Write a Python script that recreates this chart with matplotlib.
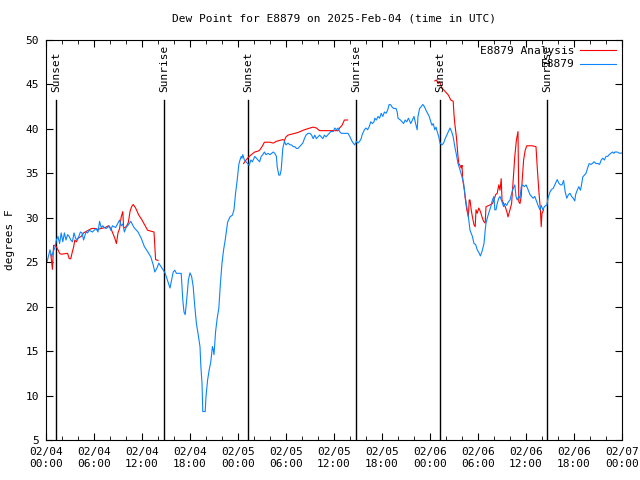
import numpy as np
import matplotlib.pyplot as plt

# hours since 2025-02-04 00:00 UTC
obs_hours = [0.15, 0.5, 0.7, 0.9, 1.1, 1.3, 1.5, 1.7, 1.9, 2.1, 2.3, 2.5, 2.7, 2.9, 3.1, 3.3, 3.5, 3.7, 3.9, 4.1,
             4.3, 4.5, 4.7, 5.0, 5.2, 5.4, 5.8, 6.25, 6.5, 6.7, 6.9, 7.1, 7.3, 7.5, 7.7, 7.9, 8.1, 8.3, 8.7, 9.2,
             9.4, 9.6, 9.8, 10.0, 10.2, 10.6, 11.0, 11.5, 11.9, 12.3, 12.7, 13.1, 13.4, 13.6, 13.9, 14.1, 14.3, 14.6,
             14.9, 15.1, 15.5, 15.7, 15.9, 16.1, 16.3, 16.9, 17.1, 17.25, 17.4, 17.6, 17.8, 18.0, 18.2, 18.4, 18.6,
             18.8, 19.0, 19.25, 19.35, 19.5, 19.6, 19.9, 20.0, 20.2, 20.4, 20.6, 20.8, 20.9, 21.0, 21.2, 21.4, 21.6,
             21.8, 22.0, 22.2, 22.4, 22.7, 23.0, 23.3, 23.5, 23.7, 23.9, 24.1, 24.25, 24.4, 24.5, 24.6, 24.8, 25.0,
             25.2, 25.4, 25.6, 25.8, 26.1, 26.3, 26.5, 26.7, 26.9, 27.1, 27.3, 27.5, 27.75, 28.0, 28.2, 28.4, 28.6,
             28.8, 28.9, 29.1, 29.25, 29.4, 29.6, 29.8, 30.0, 30.25, 30.5, 30.7, 30.9, 31.1, 31.3, 31.5, 31.7, 31.9,
             32.1, 32.3, 32.5, 32.75, 33.0, 33.2, 33.4, 33.6, 33.8, 34.0, 34.2, 34.4, 34.6, 34.8, 35.0, 35.2, 35.4,
             35.6, 35.9, 36.1, 36.3, 36.5, 36.7, 36.9, 37.3, 37.75, 38.0, 38.2, 38.4, 38.6, 38.8, 39.0, 39.2, 39.4,
             39.5, 39.6, 39.8, 40.0, 40.2, 40.4, 40.6, 40.8, 41.0, 41.1, 41.3, 41.5, 41.7, 41.9, 42.1, 42.3, 42.5,
             42.7, 42.9, 43.1, 43.3, 43.5, 43.75, 43.9, 44.0, 44.3, 44.5, 44.7, 44.9, 45.1, 45.3, 45.6, 45.8, 46.0,
             46.2, 46.4, 46.5, 46.7, 46.9, 47.1, 47.3, 47.5, 47.7, 47.9, 48.1, 48.25, 48.4, 48.6, 48.75, 48.9, 49.1,
             49.25, 49.5, 49.7, 49.9, 50.1, 50.3, 50.5, 50.7, 50.9, 51.1, 51.3, 51.5, 51.75, 52.0, 52.2, 52.4, 52.6,
             52.8, 53.0, 53.3, 53.5, 53.7, 53.9, 54.1, 54.3, 54.5, 54.75, 54.9, 55.0, 55.2, 55.4, 55.6, 55.8, 56.0,
             56.1, 56.25, 56.4, 56.6, 56.75, 57.0, 57.2, 57.4, 57.6, 57.8, 58.0, 58.25, 58.4, 58.6, 58.75, 58.9,
             59.1, 59.25, 59.4, 59.6, 59.8, 60.0, 60.2, 60.5, 60.7, 60.9, 61.1, 61.3, 61.5, 61.75, 61.9, 62.1, 62.3,
             62.5, 62.6, 62.75, 63.0, 63.2, 63.4, 63.6, 63.8, 63.9, 64.1, 64.3, 64.5, 64.7, 64.9, 65.1, 65.3, 65.5,
             65.7, 65.9, 66.1, 66.2, 66.4, 66.6, 66.8, 66.9, 67.1, 67.3, 67.5, 67.7, 67.9, 68.1, 68.3, 68.5, 68.75,
             69.0, 69.2, 69.4, 69.6, 69.8, 70.0, 70.2, 70.4, 70.6, 70.8, 71.0, 71.1, 71.4, 71.7, 72.0]
obs_dewpt = [25.1, 26.4, 25.6, 26.2, 26.6, 27.5, 27.9, 27.1, 28.3, 27.3, 28.3, 27.5, 28.1, 27.9, 27.5, 27.3, 28.3, 27.7, 27.5, 27.9,
             28.4, 28.3, 27.5, 28.4, 28.3, 28.6, 28.4, 28.8, 28.4, 29.6, 28.9, 29.1, 28.9, 28.8, 28.9, 29.1, 28.6, 29.1, 28.9, 29.75,
             29.1, 29.3, 28.4, 28.9, 29.1, 29.6, 28.9, 28.4, 27.7, 26.75, 26.2, 25.6, 24.7, 23.9, 24.4, 24.9, 24.6, 24.2,
             23.75, 23.2, 22.1, 23.0, 23.9, 24.1, 23.75, 23.75, 20.75, 19.4, 19.1, 20.9, 23.0, 23.8, 23.4, 22.25, 20.0,
             18.1, 17.0, 15.5, 13.4, 11.4, 8.2, 8.2, 9.9, 11.75, 12.9, 13.8, 15.5, 15.2, 14.6, 17.2, 18.7, 19.8,
             22.6, 24.9, 26.4, 27.5, 29.5, 30.1, 30.3, 30.9, 32.8, 34.25, 36.0, 36.5, 36.9, 36.7, 37.1, 36.5, 36.3,
             36.1, 35.9, 36.5, 36.3, 36.9, 36.7, 36.5, 36.3, 36.9, 37.1, 37.4, 37.1, 37.25, 37.1, 37.25, 37.4, 37.25,
             36.9, 35.75, 34.8, 34.8, 35.4, 37.8, 38.6, 38.2, 38.4, 38.2, 38.2, 38.0, 38.0, 37.8, 37.8, 38.0, 38.2,
             38.4, 38.9, 39.3, 39.5, 39.5, 39.3, 38.9, 39.3, 38.9, 39.1, 39.3, 39.1, 38.9, 39.3, 39.1, 39.3, 39.5,
             39.7, 39.7, 40.1, 39.9, 40.1, 39.7, 39.5, 39.5, 39.5, 39.1, 38.7, 38.4, 38.2, 38.6, 38.4, 38.6, 38.9,
             39.3, 39.5, 39.9, 40.1, 39.9, 40.25, 40.8, 40.6, 40.8, 41.2, 41.0, 41.4, 41.2, 41.75, 41.4, 41.9, 41.75,
             42.1, 42.75, 42.7, 42.4, 42.3, 42.3, 41.9, 41.2, 41.0, 40.8, 40.6, 41.0, 40.8, 41.2, 40.6, 41.0, 41.4,
             40.6, 39.9, 41.4, 42.3, 42.5, 42.75, 42.5, 42.1, 41.75, 41.4, 40.8, 40.4, 40.6, 39.9, 40.2, 39.7, 39.1,
             38.4, 38.2, 38.4, 38.9, 39.3, 39.7, 40.1, 39.7, 39.1, 38.0, 37.1, 36.1, 35.4, 34.6, 33.9, 32.4, 31.25,
             30.1, 28.6, 27.9, 27.1, 27.0, 26.4, 26.1, 25.7, 26.2, 27.1, 28.6, 29.4, 30.1, 30.7, 31.25, 32.0, 32.4,
             30.9, 30.9, 31.6, 32.2, 32.4, 31.8, 31.25, 31.6, 31.4, 31.8, 32.0, 32.9, 33.3, 33.7, 32.4, 32.0,
             32.4, 32.2, 33.5, 33.7, 33.5, 33.7, 33.3, 32.6, 32.4, 32.2, 32.4, 31.9, 31.4, 30.9, 31.4, 30.9, 31.25,
             31.4, 31.4, 32.2, 32.9, 33.2, 33.3, 33.7, 34.1, 34.3, 33.9, 33.7, 33.7, 34.2, 32.9, 32.2, 32.6, 32.75,
             32.4, 32.2, 31.9, 32.6, 33.1, 33.5, 33.1, 33.5, 34.6, 34.8, 35.0, 35.6, 36.1, 36.0, 36.1, 36.3, 36.1,
             36.1, 36.0, 36.5, 36.7, 36.5, 36.9, 36.9, 37.1, 37.25, 37.4, 37.25, 37.4, 37.4, 37.25, 37.3]

ana_hours = [0.6, 0.8, 0.95, 1.1, 1.3, 1.5, 1.7, 1.9, 2.7, 2.9, 3.1, 3.3, 3.45, 3.6, 3.8, 4.0, 4.4, 4.7, 5.3, 5.7,
             6.1, 6.5, 6.9, 7.4, 7.8, 8.0, 8.2, 8.6, 8.8, 9.0, 9.2, 9.4, 9.6, 9.7, 9.9, 10.1, 10.3, 10.5, 10.7, 10.9,
             11.2, 11.6, 12.0, 12.4, 12.7, 13.5, 13.7, 14.0, 19.0,
             24.7, 25.0, 25.4, 25.8, 26.1, 26.5, 26.7, 27.0, 27.3, 28.0, 28.4, 28.8, 29.2, 29.6, 29.8, 30.0, 30.25,
             30.7, 31.1, 31.5, 31.9, 32.3, 33.0, 33.4, 33.8, 34.2, 34.8, 35.7, 36.5, 36.7, 37.0, 37.3, 37.7, 43.0,
             48.6, 48.8, 49.0, 49.2, 49.5, 49.9, 50.3, 50.6, 50.9, 51.0, 51.1, 51.3, 51.4, 51.5, 51.6, 51.75, 51.9,
             52.0, 52.1, 52.3, 52.4, 52.6, 52.8, 52.9, 53.0, 53.15, 53.3, 53.5, 53.65, 53.75, 53.9, 54.1, 54.3, 54.5,
             54.7, 54.9, 55.0, 55.4, 55.8, 56.0, 56.2, 56.4, 56.6, 56.75, 56.9, 57.0, 57.2, 57.4, 57.6, 57.75, 58.0,
             58.2, 58.4, 58.6, 58.8, 59.0, 59.1, 59.25, 59.4, 59.5, 59.7, 59.9, 60.1, 60.75, 61.25, 61.4, 61.6,
             61.8, 61.9, 62.0, 62.2]
ana_dewpt = [25.9, 24.2, 26.9, 26.9, 26.7, 26.4, 26.0, 25.9, 26.0, 25.4, 25.4, 26.2, 26.7, 27.5, 27.3, 27.7, 27.9, 28.3, 28.6, 28.8,
             28.8, 28.7, 28.8, 28.9, 29.1, 28.9, 28.6, 27.7, 27.1, 28.3, 28.8, 30.1, 30.7, 28.9, 28.9, 29.1, 29.5, 30.7, 31.25, 31.5,
             31.1, 30.3, 29.75, 29.1, 28.6, 28.4, 25.3, 25.2, np.nan,
             36.1, 36.5, 36.9, 37.2, 37.4, 37.5, 37.6, 38.0, 38.5, 38.5, 38.4, 38.6, 38.7, 38.8, 38.7, 39.1, 39.3,
             39.4, 39.5, 39.6, 39.75, 39.9, 40.1, 40.2, 40.1, 39.8, 39.8, 39.8, 39.8, 40.1, 40.4, 41.0, 41.0, np.nan,
             45.4, 45.5, 45.1, 45.3, 44.6, 44.2, 43.8, 43.25, 43.1, 41.6, 40.6, 39.1, 38.0, 36.9, 36.1, 35.9, 35.6,
             35.9, 34.25, 33.1, 32.2, 30.9, 30.1, 32.0, 32.0, 30.9, 30.1, 29.2, 29.0, 30.9, 30.5, 31.1, 30.7, 30.1,
             29.6, 29.4, 31.25, 31.4, 31.6, 32.0, 32.6, 32.75, 33.7, 33.1, 34.4, 32.0, 31.6, 31.25, 30.7, 30.1, 30.9,
             31.6, 34.25, 36.9, 38.75, 39.7, 31.8, 31.6, 32.4, 33.9, 36.5, 37.6, 38.1, 38.1, 38.0, 35.75, 33.1,
             30.9, 29.0, 30.5, 30.9]

event_hours = [1.25, 14.75, 25.25, 38.75, 49.25, 62.6]
event_labels = ["Sunset", "Sunrise", "Sunset", "Sunrise", "Sunset", "Sunrise"]

tick_hours = [0, 6, 12, 18, 24, 30, 36, 42, 48, 54, 60, 66, 72]
tick_labels = ["02/04\n00:00", "02/04\n06:00", "02/04\n12:00", "02/04\n18:00",
               "02/05\n00:00", "02/05\n06:00", "02/05\n12:00", "02/05\n18:00",
               "02/06\n00:00", "02/06\n06:00", "02/06\n12:00", "02/06\n18:00",
               "02/07\n00:00"]

plt.rcParams['font.family'] = 'DejaVu Sans Mono'
plt.rcParams['font.size'] = 8

fig = plt.figure(figsize=(6.4, 4.8), dpi=100)
ax = fig.add_axes([46 / 640, 40 / 480, 576 / 640, 400 / 480])

for h, lab in zip(event_hours, event_labels):
    ax.plot([h, h], [5, 43.3], color='black', lw=1.0)
    ax.text(h + 0.05, 44.15, lab, rotation=90, ha='center', va='bottom', fontsize=8)

ax.plot(ana_hours, ana_dewpt, color='#ff0000', lw=0.8, label='E8879 Analysis')
ax.plot(obs_hours, obs_dewpt, color='#0a84ff', lw=0.8, label='E8879')

ax.set_xlim(0, 72)
ax.set_ylim(5, 50)
ax.set_xticks(tick_hours)
ax.set_xticklabels(tick_labels)
ax.set_xticks(np.arange(0, 73, 2), minor=True)
ax.set_yticks(np.arange(5, 51, 5))
ax.tick_params(which='both', direction='in', top=True, right=True, pad=5, labelsize=8)
ax.tick_params(which='major', length=5)
ax.tick_params(which='minor', length=3)
fig.text(10 / 640, 0.5, 'degrees F', rotation=90, ha='center', va='center', fontsize=8)
ax.set_title('Dew Point for E8879 on 2025-Feb-04 (time in UTC)', fontsize=8, pad=13)

ax.legend(loc='upper right', frameon=False, markerfirst=False, handlelength=3.2,
          borderaxespad=0.15, labelspacing=0.3, handletextpad=0.5, fontsize=8)

fig.savefig('out.png', dpi=100)
